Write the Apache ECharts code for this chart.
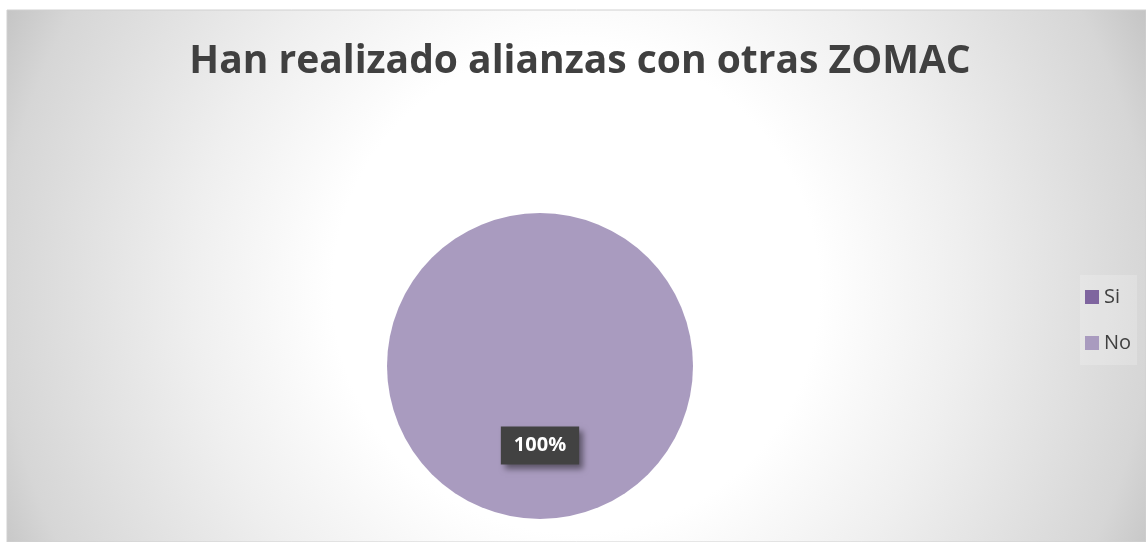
<!DOCTYPE html>
<html>
<head>
<meta charset="utf-8">
<script src="https://cdn.jsdelivr.net/npm/echarts@6/dist/echarts.min.js"></script>
<style>
  html, body { margin: 0; padding: 0; background: #fff; }
  #chart { width: 1146px; height: 542px; }
</style>
</head>
<body>
<div id="chart"></div>
<script>
// datos del grafico
const categories = ["Si", "No"];
const values = [0, 100];
const colors = ["#7F659F", "#A99BBF"];

const chart = echarts.init(document.getElementById("chart"));

const option = {
  animation: false,
  graphic: [
    {
      type: "rect",
      z: -10,
      silent: true,
      shape: { x: 7, y: 10, width: 1139, height: 532 },
      style: {
        fill: {
          type: "radial",
          x: 576,
          y: 290,
          r: 640,
          global: true,
          colorStops: [
            { offset: 0, color: "#ffffff" },
            { offset: 0.38, color: "#ffffff" },
            { offset: 0.6, color: "#efefef" },
            { offset: 0.9, color: "#d6d6d6" },
            { offset: 1, color: "#c3c3c3" },
          ],
        },
        stroke: "#d0d0d0",
        lineWidth: 1,
      },
    },
  ],
  title: {
    text: "Han realizado alianzas con otras ZOMAC",
    left: 575,
    top: 37,
    textAlign: "center",
    textStyle: {
      fontFamily: "Open Sans",
      fontWeight: "bold",
      fontSize: 39,
      color: "#404040",
    },
  },
  legend: {
    orient: "vertical",
    left: 1080,
    top: 275,
    padding: [12, 6, 12, 5],
    backgroundColor: "rgba(255,255,255,0.2)",
    itemWidth: 14,
    itemHeight: 14,
    itemGap: 26,
    icon: "rect",
    selectedMode: false,
    data: categories,
    textStyle: {
      fontFamily: "Open Sans",
      fontSize: 20,
      lineHeight: 20,
      color: "#404040",
    },
  },
  series: [
    {
      type: "pie",
      center: [540, 366],
      radius: 153,
      startAngle: 90,
      clockwise: true,
      avoidLabelOverlap: false,
      emphasis: { disabled: true },
      labelLine: { show: false },
      label: {
        show: true,
        position: "inside",
        formatter: "{d}%",
        fontFamily: "Open Sans",
        fontWeight: "bold",
        fontSize: 20,
        color: "#ffffff",
        backgroundColor: "#424242",
        padding: [9, 13, 9, 13],
        shadowColor: "rgba(0,0,0,0.45)",
        shadowBlur: 6,
        shadowOffsetX: 4,
        shadowOffsetY: 4,
      },
      data: categories.map((name, i) => ({
        name: name,
        value: values[i],
        itemStyle: { color: colors[i] },
        label: { show: values[i] > 0 },
      })),
    },
  ],
};

chart.setOption(option);
</script>
</body>
</html>
